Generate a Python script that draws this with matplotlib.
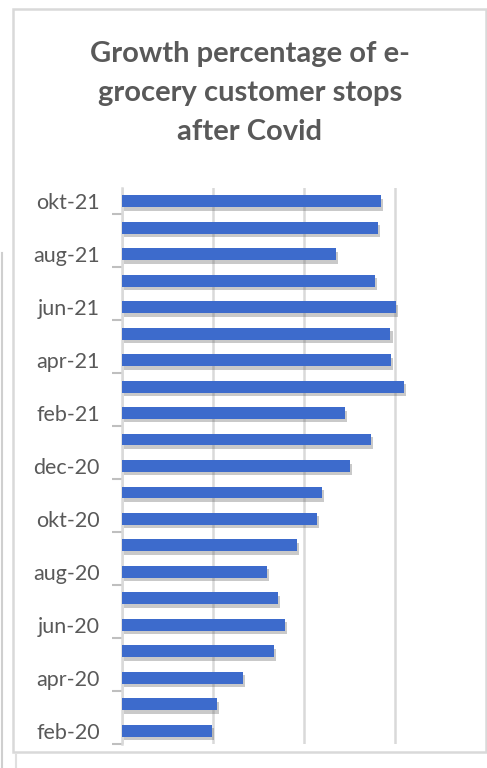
import matplotlib.pyplot as plt
import matplotlib.patheffects as pe
from matplotlib.patches import Rectangle
from matplotlib.lines import Line2D

months = ['feb-20', 'mrt-20', 'apr-20', 'mei-20', 'jun-20', 'jul-20', 'aug-20',
          'sep-20', 'okt-20', 'nov-20', 'dec-20', 'jan-21', 'feb-21', 'mrt-21',
          'apr-21', 'mei-21', 'jun-21', 'jul-21', 'aug-21', 'sep-21', 'okt-21']
growth = [0.99, 1.04, 1.33, 1.67, 1.79, 1.71, 1.59,
          1.92, 2.14, 2.20, 2.51, 2.74, 2.45, 3.10,
          2.96, 2.95, 3.01, 2.78, 2.35, 2.81, 2.85]

W, H = 487, 768
fig = plt.figure(figsize=(W / 100, H / 100), dpi=100)
plt.rcParams['font.family'] = ['Lato', 'DejaVu Sans']

# outer chart frame and the stray edge lines of the screenshot
fig.add_artist(Rectangle((13 / W, 1 - 752 / H), (486 - 13) / W, (752 - 9) / H,
                         transform=fig.transFigure, fill=False,
                         edgecolor='#d9d9d9', lw=1.8))
fig.add_artist(Line2D([2 / W, 2 / W], [0, 1 - 253 / H], transform=fig.transFigure,
                      color='#cfcfcf', lw=1.5))
fig.add_artist(Line2D([16 / W, 16 / W], [0, 1 - 755 / H], transform=fig.transFigure,
                      color='#e0e0e0', lw=1.5))

fig.text(250 / W, 1 - 93 / H, 'Growth percentage of e-\ngrocery customer stops\nafter Covid',
         ha='center', va='center', fontsize=21, fontweight='bold', color='#595959',
         linespacing=1.6)

ax = fig.add_axes([122 / W, 1 - 744 / H, (486 - 122) / W, (744 - 188) / H])
y = list(range(len(months)))
bars = ax.barh(y, growth, height=0.45, color='#3d6bcc', zorder=3)
for b in bars:
    b.set_path_effects([pe.SimplePatchShadow(offset=(1.5, -2.5), shadow_rgbFace='#666666', alpha=0.35),
                        pe.Normal()])

ax.set_xlim(0, 4.0)
ax.set_ylim(-0.5, len(months) - 0.5)
ax.set_xticks([0, 1, 2, 3])
ax.xaxis.grid(True, color='#d9d9d9', lw=1.8)
ax.set_xticklabels([])
ax.tick_params(axis='x', length=0)

ax.set_yticks(y[::2])
ax.set_yticklabels(months[::2], fontsize=15.5, color='#595959')
ax.tick_params(axis='y', which='major', length=0, pad=16)
ax.set_yticks([i - 0.5 for i in range(0, len(months) + 1, 2)], minor=True)
ax.tick_params(axis='y', which='minor', length=7, color='#bfbfbf', width=1.5)

for s in ['top', 'right', 'bottom']:
    ax.spines[s].set_visible(False)
ax.spines['left'].set_color('#d9d9d9')
ax.spines['left'].set_linewidth(1.8)

fig.savefig('out.png', dpi=100)
